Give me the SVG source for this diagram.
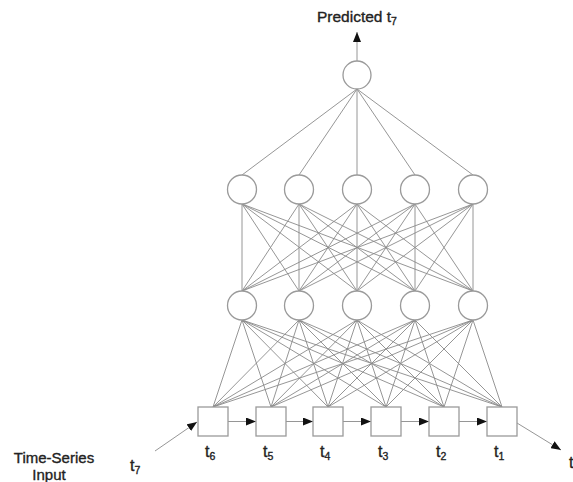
<svg xmlns="http://www.w3.org/2000/svg" width="573" height="482" viewBox="0 0 573 482">
<defs>
<style>
.n{fill:#fff;stroke:#9a9a9a;stroke-width:1.3}
.c line{stroke:#8a8a8a;stroke-width:0.9}
.a{stroke:#555;stroke-width:1.2;fill:none}
text{font-family:"Liberation Sans",Arial,sans-serif;fill:#222;stroke:#222;stroke-width:0.35}
.s{font-size:10.5px}
</style>
<marker id="ah" viewBox="0 0 10 8" refX="10" refY="4" markerWidth="10" markerHeight="8" markerUnits="userSpaceOnUse" orient="auto">
<path d="M0,0 L10,4 L0,8 z" fill="#111"/>
</marker>
</defs>
<rect width="573" height="482" fill="#fff"/>
<g id="connectors" class="c">
<line x1="357" y1="89" x2="242" y2="175"/><line x1="357" y1="89" x2="299" y2="175"/><line x1="357" y1="89" x2="357" y2="175"/><line x1="357" y1="89" x2="415" y2="175"/><line x1="357" y1="89" x2="473" y2="175"/>
<line x1="242" y1="204" x2="242" y2="291"/><line x1="242" y1="204" x2="299" y2="291"/><line x1="242" y1="204" x2="357" y2="291"/><line x1="242" y1="204" x2="415" y2="291"/><line x1="242" y1="204" x2="473" y2="291"/>
<line x1="299" y1="204" x2="242" y2="291"/><line x1="299" y1="204" x2="299" y2="291"/><line x1="299" y1="204" x2="357" y2="291"/><line x1="299" y1="204" x2="415" y2="291"/><line x1="299" y1="204" x2="473" y2="291"/>
<line x1="357" y1="204" x2="242" y2="291"/><line x1="357" y1="204" x2="299" y2="291"/><line x1="357" y1="204" x2="357" y2="291"/><line x1="357" y1="204" x2="415" y2="291"/><line x1="357" y1="204" x2="473" y2="291"/>
<line x1="415" y1="204" x2="242" y2="291"/><line x1="415" y1="204" x2="299" y2="291"/><line x1="415" y1="204" x2="357" y2="291"/><line x1="415" y1="204" x2="415" y2="291"/><line x1="415" y1="204" x2="473" y2="291"/>
<line x1="473" y1="204" x2="242" y2="291"/><line x1="473" y1="204" x2="299" y2="291"/><line x1="473" y1="204" x2="357" y2="291"/><line x1="473" y1="204" x2="415" y2="291"/><line x1="473" y1="204" x2="473" y2="291"/>
<line x1="242" y1="320" x2="213" y2="407"/><line x1="242" y1="320" x2="271" y2="407"/><line x1="242" y1="320" x2="328" y2="407"/><line x1="242" y1="320" x2="386" y2="407"/><line x1="242" y1="320" x2="444" y2="407"/><line x1="242" y1="320" x2="502" y2="407"/>
<line x1="299" y1="320" x2="213" y2="407"/><line x1="299" y1="320" x2="271" y2="407"/><line x1="299" y1="320" x2="328" y2="407"/><line x1="299" y1="320" x2="386" y2="407"/><line x1="299" y1="320" x2="444" y2="407"/><line x1="299" y1="320" x2="502" y2="407"/>
<line x1="357" y1="320" x2="213" y2="407"/><line x1="357" y1="320" x2="271" y2="407"/><line x1="357" y1="320" x2="328" y2="407"/><line x1="357" y1="320" x2="386" y2="407"/><line x1="357" y1="320" x2="444" y2="407"/><line x1="357" y1="320" x2="502" y2="407"/>
<line x1="415" y1="320" x2="213" y2="407"/><line x1="415" y1="320" x2="271" y2="407"/><line x1="415" y1="320" x2="328" y2="407"/><line x1="415" y1="320" x2="386" y2="407"/><line x1="415" y1="320" x2="444" y2="407"/><line x1="415" y1="320" x2="502" y2="407"/>
<line x1="473" y1="320" x2="213" y2="407"/><line x1="473" y1="320" x2="271" y2="407"/><line x1="473" y1="320" x2="328" y2="407"/><line x1="473" y1="320" x2="386" y2="407"/><line x1="473" y1="320" x2="444" y2="407"/><line x1="473" y1="320" x2="502" y2="407"/>
<line class="a" x1="357" y1="61" x2="357" y2="32" marker-end="url(#ah)"/>
<line class="a" x1="228" y1="421.5" x2="256" y2="421.5" marker-end="url(#ah)"/>
<line class="a" x1="286" y1="421.5" x2="313" y2="421.5" marker-end="url(#ah)"/>
<line class="a" x1="343" y1="421.5" x2="371" y2="421.5" marker-end="url(#ah)"/>
<line class="a" x1="401" y1="421.5" x2="429" y2="421.5" marker-end="url(#ah)"/>
<line class="a" x1="459" y1="421.5" x2="487" y2="421.5" marker-end="url(#ah)"/>
<line class="a" x1="155" y1="451" x2="197" y2="422" marker-end="url(#ah)"/>
<line class="a" x1="517" y1="423" x2="561" y2="450" marker-end="url(#ah)"/>
</g>
<g id="out"><circle class="n" cx="357" cy="75" r="14"/></g>
<g id="h2_1"><circle class="n" cx="242" cy="189.5" r="14.5"/></g>
<g id="h2_2"><circle class="n" cx="299" cy="189.5" r="14.5"/></g>
<g id="h2_3"><circle class="n" cx="357" cy="189.5" r="14.5"/></g>
<g id="h2_4"><circle class="n" cx="415" cy="189.5" r="14.5"/></g>
<g id="h2_5"><circle class="n" cx="473" cy="189.5" r="14.5"/></g>
<g id="h1_1"><circle class="n" cx="242" cy="305.5" r="14.5"/></g>
<g id="h1_2"><circle class="n" cx="299" cy="305.5" r="14.5"/></g>
<g id="h1_3"><circle class="n" cx="357" cy="305.5" r="14.5"/></g>
<g id="h1_4"><circle class="n" cx="415" cy="305.5" r="14.5"/></g>
<g id="h1_5"><circle class="n" cx="473" cy="305.5" r="14.5"/></g>
<g id="in_t6"><rect class="n" x="198" y="407" width="30" height="29"/><text x="205" y="457" font-size="16">t<tspan class="s" dy="3">6</tspan></text></g>
<g id="in_t5"><rect class="n" x="256" y="407" width="30" height="29"/><text x="263" y="457" font-size="16">t<tspan class="s" dy="3">5</tspan></text></g>
<g id="in_t4"><rect class="n" x="313" y="407" width="30" height="29"/><text x="320" y="457" font-size="16">t<tspan class="s" dy="3">4</tspan></text></g>
<g id="in_t3"><rect class="n" x="371" y="407" width="30" height="29"/><text x="378" y="457" font-size="16">t<tspan class="s" dy="3">3</tspan></text></g>
<g id="in_t2"><rect class="n" x="429" y="407" width="30" height="29"/><text x="436" y="457" font-size="16">t<tspan class="s" dy="3">2</tspan></text></g>
<g id="in_t1"><rect class="n" x="487" y="407" width="30" height="29"/><text x="494" y="457" font-size="16">t<tspan class="s" dy="3">1</tspan></text></g>
<g id="labels">
<text x="317" y="22" font-size="15.5">Predicted t<tspan class="s" dy="3">7</tspan></text>
<text x="130" y="471" font-size="16">t<tspan class="s" dy="3">7</tspan></text>
<text x="569" y="468" font-size="16">t</text>
<text x="54" y="463" font-size="15" text-anchor="middle">Time-Series</text>
<text x="49" y="480" font-size="15" text-anchor="middle">Input</text>
</g>
</svg>
